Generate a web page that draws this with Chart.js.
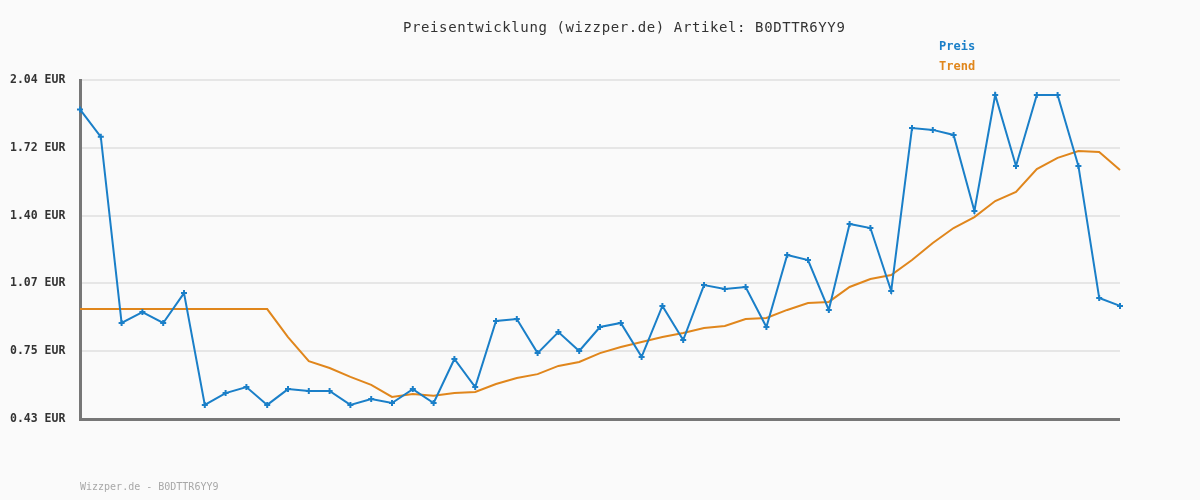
<!DOCTYPE html>
<html>
<head>
<meta charset="utf-8">
<script src="https://cdn.jsdelivr.net/npm/chart.js@4"></script>
<style>
  html, body { margin: 0; padding: 0; background: #fafafa; }
  #wrap { width: 1200px; height: 500px; }
</style>
</head>
<body>
<div id="wrap"><canvas id="priceChart" width="1200" height="500"></canvas></div>
<script>
// Chart data
const labels = Array.from({ length: 51 }, (_, i) => String(i + 1));

const preis = [
    1.90, 1.77, 0.886, 0.938, 0.886, 1.028, 0.497, 0.553, 0.582, 0.497,
    0.572, 0.563, 0.563, 0.497, 0.525, 0.506, 0.572, 0.506, 0.715, 0.582,
    0.896, 0.905, 0.743, 0.843, 0.753, 0.867, 0.886, 0.725, 0.967, 0.805,
    1.066, 1.047, 1.057, 0.867, 1.209, 1.185, 0.948, 1.356, 1.337, 1.038,
    1.812, 1.803, 1.779, 1.418, 1.969, 1.632, 1.969, 1.969, 1.632, 1.005,
    0.967
];

const trend = [
    0.952, 0.952, 0.952, 0.952, 0.952, 0.952, 0.952, 0.952, 0.952, 0.952,
    0.819, 0.705, 0.672, 0.630, 0.592, 0.535, 0.549, 0.540, 0.554, 0.558,
    0.596, 0.625, 0.643, 0.682, 0.701, 0.743, 0.772, 0.796, 0.819, 0.838,
    0.862, 0.872, 0.905, 0.910, 0.948, 0.981, 0.986, 1.057, 1.095, 1.114,
    1.185, 1.266, 1.337, 1.389, 1.465, 1.508, 1.617, 1.670, 1.703, 1.698,
    1.613
];

const yTicks = [0.43, 0.752, 1.074, 1.396, 1.718, 2.04];
const yTickLabels = ['0.43 EUR', '0.75 EUR', '1.07 EUR', '1.40 EUR', '1.72 EUR', '2.04 EUR'];

const chartTitle = 'Preisentwicklung (wizzper.de) Artikel: B0DTTR6YY9';
const footerText = 'Wizzper.de - B0DTTR6YY9';

const colors = {
    preis: '#1a7fc8',
    trend: '#e0861c'
};

const MONO = '"DejaVu Sans Mono", "Liberation Mono", monospace';

// title, legend and footer drawn on the canvas
const textPlugin = {
    id: 'textPlugin',
    beforeDraw(chart) {
        const ctx = chart.ctx;
        ctx.save();
        ctx.fillStyle = '#fafafa';
        ctx.fillRect(0, 0, chart.width, chart.height);
        ctx.restore();
    },
    afterDraw(chart) {
        const ctx = chart.ctx;
        ctx.save();
        ctx.textBaseline = 'middle';

        ctx.font = '14px ' + MONO;
        ctx.letterSpacing = '0.6px';
        ctx.fillStyle = '#333333';
        ctx.textAlign = 'left';
        ctx.fillText(chartTitle, 403, 28);

        ctx.font = 'bold 12px ' + MONO;
        ctx.letterSpacing = '0px';
        ctx.fillStyle = colors.preis;
        ctx.fillText('Preis', 939, 47);
        ctx.fillStyle = colors.trend;
        ctx.fillText('Trend', 939, 67);

        ctx.font = '10px ' + MONO;
        ctx.fillStyle = '#a8a8a8';
        ctx.fillText(footerText, 80, 487);
        ctx.restore();
    }
};

new Chart(document.getElementById('priceChart').getContext('2d'), {
    type: 'line',
    data: {
        labels: labels,
        datasets: [
            {
                label: 'Preis',
                data: preis,
                borderColor: colors.preis,
                backgroundColor: colors.preis,
                borderWidth: 2,
                pointStyle: 'cross',
                pointRadius: 3,
                pointBorderWidth: 2,
                tension: 0,
                fill: false,
                order: 1
            },
            {
                label: 'Trend',
                data: trend,
                borderColor: colors.trend,
                backgroundColor: colors.trend,
                borderWidth: 2,
                pointRadius: 0,
                tension: 0,
                fill: false,
                order: 2
            }
        ]
    },
    options: {
        responsive: false,
        animation: false,
        layout: { padding: { left: 10, top: 80, right: 80, bottom: 81 } },
        scales: {
            x: {
                display: false,
                offset: false
            },
            y: {
                min: 0.43,
                max: 2.04,
                afterBuildTicks: (scale) => {
                    scale.ticks = yTicks.map(v => ({ value: v }));
                },
                afterFit: (scale) => { scale.width = 70; },
                border: { color: '#777777', width: 3 },
                grid: {
                    color: (c) => c.index === 0 ? '#777777' : '#e6e6e6',
                    lineWidth: (c) => c.index === 0 ? 3 : 2,
                    drawTicks: false
                },
                ticks: {
                    crossAlign: 'far',
                    padding: 0,
                    color: '#333333',
                    font: { family: MONO, size: 11.5, weight: 'bold' },
                    callback: (value, i) => yTickLabels[i]
                }
            }
        },
        plugins: {
            legend: { display: false },
            title: { display: false },
            tooltip: { enabled: false }
        }
    },
    plugins: [textPlugin]
});
</script>
</body>
</html>
